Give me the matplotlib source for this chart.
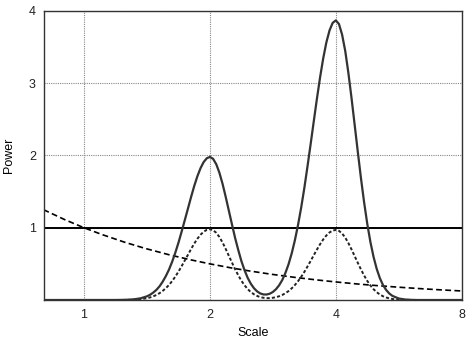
import matplotlib
matplotlib.use("Agg")
import matplotlib.pyplot as plt
from matplotlib.ticker import FixedLocator, FixedFormatter, NullLocator

plt.rcParams['font.family'] = ['Liberation Sans', 'DejaVu Sans']

# ---- data ----
scale = [0.8, 1.189, 1.231, 1.275, 1.320, 1.366, 1.414,
         1.439, 1.464, 1.490, 1.516, 1.542, 1.569, 1.597, 1.625, 1.653, 1.682,
         1.711, 1.741, 1.772, 1.803, 1.834, 1.866, 1.899, 1.932, 1.966, 2.0,
         2.035, 2.071, 2.107, 2.144, 2.181, 2.219, 2.258, 2.297, 2.338, 2.378,
         2.420, 2.462, 2.505, 2.549, 2.594, 2.639, 2.685, 2.732, 2.780, 2.828,
         2.878, 2.928, 2.979, 3.031, 3.084, 3.138, 3.193, 3.249, 3.306, 3.364,
         3.422, 3.482, 3.543, 3.605, 3.668, 3.732, 3.797, 3.864, 3.931, 4.0,
         4.070, 4.141, 4.214, 4.287, 4.362, 4.438, 4.516, 4.595, 4.675, 4.757,
         4.840, 4.925, 5.011, 5.098, 5.187, 5.278, 5.370, 5.464,
         5.657, 5.856, 6.063, 6.277, 8.0]

power_signal = [0.0, 0.0005, 0.0015, 0.004, 0.010, 0.024, 0.051,
                0.073, 0.103, 0.141, 0.191, 0.254, 0.331, 0.423, 0.532, 0.655, 0.794,
                0.944, 1.103, 1.265, 1.426, 1.576, 1.711, 1.824, 1.909, 1.962, 1.98,
                1.954, 1.879, 1.762, 1.608, 1.430, 1.239, 1.047, 0.861, 0.691, 0.540,
                0.412, 0.307, 0.225, 0.163, 0.119, 0.091, 0.077, 0.076, 0.087, 0.111,
                0.150, 0.204, 0.277, 0.375, 0.496, 0.646, 0.827, 1.039, 1.281, 1.552,
                1.846, 2.156, 2.473, 2.786, 3.081, 3.344, 3.564, 3.731, 3.835, 3.87,
                3.820, 3.673, 3.444, 3.142, 2.794, 2.423, 2.047, 1.683, 1.351, 1.053,
                0.802, 0.595, 0.430, 0.303, 0.207, 0.139, 0.090, 0.057,
                0.021, 0.007, 0.002, 0.0, 0.0]

power_theory = [0.0, 0.0003, 0.0008, 0.002, 0.005, 0.012, 0.025,
                0.036, 0.051, 0.070, 0.095, 0.126, 0.164, 0.209, 0.263, 0.324, 0.393,
                0.467, 0.546, 0.626, 0.706, 0.780, 0.847, 0.903, 0.945, 0.971, 0.98,
                0.967, 0.930, 0.872, 0.796, 0.708, 0.613, 0.518, 0.426, 0.342, 0.267,
                0.204, 0.151, 0.110, 0.079, 0.056, 0.040, 0.031, 0.026, 0.026, 0.031,
                0.039, 0.052, 0.070, 0.094, 0.124, 0.162, 0.207, 0.260, 0.321, 0.389,
                0.463, 0.540, 0.620, 0.698, 0.772, 0.838, 0.893, 0.935, 0.961, 0.97,
                0.957, 0.921, 0.863, 0.788, 0.700, 0.607, 0.513, 0.422, 0.339, 0.264,
                0.201, 0.149, 0.108, 0.076, 0.052, 0.035, 0.023, 0.014,
                0.005, 0.002, 0.0005, 0.0, 0.0]

red_scale = [0.8, 0.9, 1.0, 1.1, 1.25, 1.4, 1.6, 1.8, 2.0, 2.25, 2.5, 2.8,
             3.2, 3.6, 4.0, 4.5, 5.0, 5.6, 6.3, 7.0, 8.0]
red_power = [1.25, 1.111, 1.0, 0.909, 0.8, 0.714, 0.625, 0.556, 0.5, 0.444, 0.4, 0.357,
             0.3125, 0.278, 0.25, 0.222, 0.2, 0.179, 0.159, 0.143, 0.125]

white_level = 1.0

x_ticks = [1, 2, 4, 8]
x_labels = ['1', '2', '4', '8']
y_ticks = [1, 2, 3, 4]
y_labels = ['1', '2', '3', '4']

# ---- figure ----
fig = plt.figure(figsize=(4.69, 3.38), dpi=100)
ax = fig.add_axes([0.0928, 0.1124, 0.8916, 0.8551])

ax.set_xscale('log', base=2)
ax.set_xlim(0.8, 8)
ax.set_ylim(0, 4)

ax.xaxis.set_major_locator(FixedLocator(x_ticks))
ax.xaxis.set_major_formatter(FixedFormatter(x_labels))
ax.xaxis.set_minor_locator(NullLocator())
ax.yaxis.set_major_locator(FixedLocator(y_ticks))
ax.yaxis.set_major_formatter(FixedFormatter(y_labels))

ax.grid(True, color='#888888', linestyle=(0, (1, 1)), linewidth=0.8)
ax.set_axisbelow(True)
ax.tick_params(axis='y', length=0, pad=5.5, labelsize=9, colors='#222222')
ax.tick_params(axis='x', length=0, pad=6.5, labelsize=9, colors='#222222')

for sp in ax.spines.values():
    sp.set_color('#333333')
    sp.set_linewidth(1.0)

ax.axhline(white_level, color='black', linewidth=1.4)
ax.plot(red_scale, red_power, color='black', linewidth=1.2, linestyle=(0, (3.5, 2)))
ax.plot(scale, power_theory, color='#222222', linewidth=1.4, linestyle=(0, (1.6, 1.1)))
ax.plot(scale, power_signal, color='#333333', linewidth=1.6)

ax.set_xlabel('Scale', fontsize=9, labelpad=4)
ax.set_ylabel('Power', fontsize=9, labelpad=10)

fig.savefig('out.png', dpi=100)
